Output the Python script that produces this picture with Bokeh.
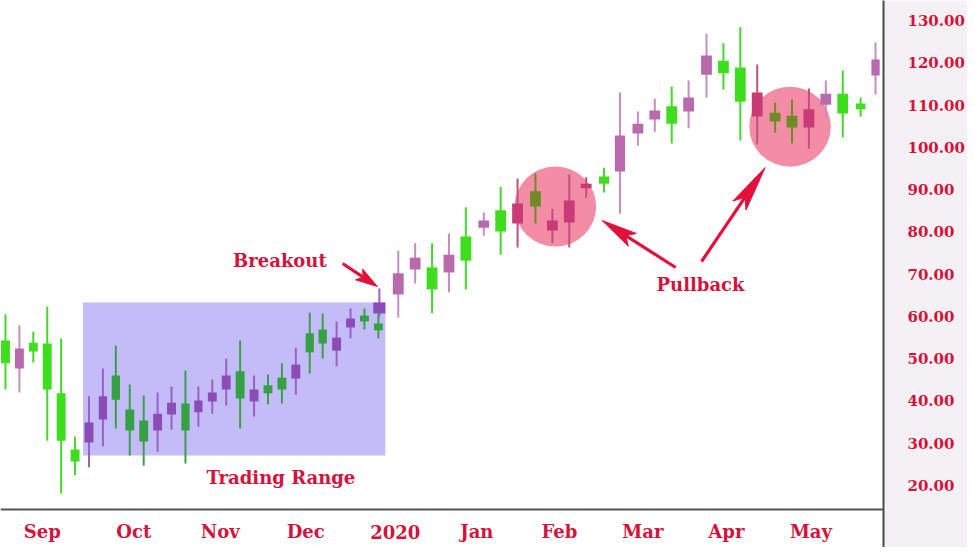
import numpy as np
from bokeh.plotting import figure
from bokeh.models import Range1d, FixedTicker, PrintfTickFormatter, Span
from bokeh.core.properties import value
from bokeh.embed import file_html
from bokeh.resources import INLINE

# ---------------- data ----------------
# candle positions along the time axis (chart units)
t = [5, 19, 33, 47, 61, 75, 89, 103, 116, 130, 144, 158, 172, 186, 199, 213, 227, 241,
     255, 269, 283, 297, 311, 324, 338, 352, 366, 381, 380, 400, 417, 434, 451, 468,
     486, 503, 520, 538, 555, 572, 589, 607, 623, 641, 658, 675, 692, 710, 727, 744,
     761, 779, 796, 813, 830, 847, 865, 880, 893]
opens = [48.9, 52.4, 51.7, 42.7, 30.6, 25.7, 34.9, 41.1, 40.3, 33.0, 30.4, 37.0, 39.6, 33.0,
         40.1, 42.0, 46.0, 40.6, 42.7, 41.8, 42.7, 48.6, 51.5, 53.6, 55.0, 59.5, 58.8, 63.3,
         56.7, 70.2, 73.9, 66.4, 74.6, 73.2, 82.7, 80.1, 86.7, 86.0, 82.7, 87.4, 91.4, 91.4,
         102.8, 105.6, 108.7, 105.6, 111.8, 121.7, 117.5, 110.8, 113.0, 106.1, 104.7, 109.0,
         112.7, 108.0, 109.0, 120.8, 123.6]
closes = [54.3, 47.7, 53.8, 53.6, 41.8, 28.5, 30.2, 35.6, 46.0, 38.0, 35.4, 33.0, 36.8, 39.4,
          37.3, 39.9, 42.7, 47.0, 39.9, 43.7, 45.5, 45.3, 56.0, 56.9, 51.9, 57.4, 60.2, 60.7,
          58.3, 65.2, 71.1, 71.6, 70.4, 78.9, 81.0, 85.1, 82.0, 89.6, 80.3, 82.2, 90.3, 93.1,
          94.3, 103.3, 106.6, 109.7, 108.5, 117.2, 120.5, 118.9, 107.3, 108.2, 107.5, 104.7,
          110.1, 112.7, 110.4, 117.0, 121.7]
highs = [60.5, 57.9, 56.4, 62.3, 54.8, 31.6, 41.1, 47.7, 53.1, 43.9, 41.3, 42.0, 43.4, 47.2,
         43.4, 45.1, 50.0, 54.3, 46.0, 46.3, 48.9, 52.6, 60.9, 60.7, 58.8, 61.9, 61.9, 66.6,
         60.7, 75.6, 77.3, 77.3, 79.6, 85.8, 84.6, 90.7, 92.6, 93.8, 85.5, 93.6, 92.9, 95.2,
         113.0, 108.5, 111.5, 114.4, 115.8, 126.9, 124.6, 128.4, 119.6, 110.6, 111.3, 113.9,
         115.8, 118.2, 111.8, 124.8, 126.0]
lows = [42.7, 42.0, 49.1, 30.6, 18.1, 22.4, 24.3, 29.2, 33.5, 27.1, 24.7, 28.0, 33.2, 25.2,
        33.9, 37.0, 38.9, 33.5, 36.3, 39.2, 39.4, 41.5, 46.5, 50.0, 48.2, 54.8, 56.9, 60.0,
        54.8, 59.7, 67.8, 60.7, 65.7, 66.4, 79.1, 74.6, 76.3, 82.0, 77.3, 76.3, 88.1, 89.3,
        84.3, 100.4, 103.7, 100.9, 104.5, 111.8, 113.7, 101.6, 100.7, 103.5, 100.9, 99.7,
        107.1, 102.3, 107.3, 112.5, 119.0]

month_labels = ["Sep", "Oct", "Nov", "Dec", "2020", "Jan", "Feb", "Mar", "Apr", "May"]
month_pos = [42, 134, 221, 307, 397, 479, 562, 646, 730, 815]
price_ticks = [20, 30, 40, 50, 60, 70, 80, 90, 100, 110, 120, 130]

# annotation regions
range_box = dict(left=83, right=387, bottom=27.1, top=63.3)
pullback_centers_t = [558, 794]
pullback_centers_p = [86.0, 104.9]

# ---------------- styling ----------------
RED = "#d2143c"
ARROW_RED = "#e4103c"
FONT = value("DejaVu Serif")
PX_PER_UNIT = 4.227           # vertical pixels per price unit
Y0_PX, Y0_VAL = 485, 20.0
W, H = 967, 547
FRAME_W = 888


def val(py):
    return Y0_VAL + (Y0_PX - py) / PX_PER_UNIT


t_arr = np.array(t, float)
o = np.array(opens); c = np.array(closes); h = np.array(highs); l = np.array(lows)
up = c >= o

# circle size (chart units)
RX = 41.0
RY = 40.0 / PX_PER_UNIT

# colours per region (box / circle appear multiplied onto the candles)
body_col, wick_col = [], []
mid = (o + c) / 2
for i in range(len(t)):
    in_box = range_box["left"] <= t_arr[i] <= range_box["right"]
    in_circ = any(((t_arr[i] - cx) / RX) ** 2 + ((mid[i] - cy) / RY) ** 2 < 1.0
                  for cx, cy in zip(pullback_centers_t, pullback_centers_p))
    if in_circ:
        b = "#6f8a26" if up[i] else "#c93b76"
        w = "#6f8a26" if up[i] else "#c0507e"
    elif in_box:
        b = "#35a044" if up[i] else "#8c4cb8"
        w = "#3aa04a" if up[i] else "#9a62c0"
    else:
        b = "#3ede1e" if up[i] else "#b86aad"
        w = "#44d82a" if up[i] else "#c48ec0"
    body_col.append(b)
    wick_col.append(w)

# body width from local spacing of the candles
order = np.argsort(t_arr)
ts = t_arr[order]
gaps = np.diff(ts)
gaps[gaps < 5] = np.nan
sp = np.empty(len(ts))
for k in range(len(ts)):
    cand = [g for g in [gaps[k - 1] if k > 0 else np.nan, gaps[k] if k < len(gaps) else np.nan]
            if not np.isnan(g)]
    sp[k] = min(cand) if cand else 14
spacing = np.empty(len(ts)); spacing[order] = sp
widths = 0.64 * spacing

p = figure(width=W, height=H, title=None, output_backend="svg", toolbar_location=None,
           x_axis_location=None, y_axis_location="right",
           x_range=Range1d(0, FRAME_W), y_range=Range1d(val(H), val(0)),
           min_border_left=0, min_border_top=0, min_border_bottom=0,
           min_border_right=W - FRAME_W)
p.grid.visible = False
p.outline_line_color = None
p.background_fill_color = "white"
p.border_fill_color = "#f3f1f3"

# trading range box
p.quad(left=[range_box["left"]], right=[range_box["right"]], bottom=[range_box["bottom"]],
       top=[range_box["top"]], fill_color="#c3bcf9", line_color=None)
# pullback circles
p.ellipse(x=pullback_centers_t, y=pullback_centers_p, width=2 * RX, height=2 * RY,
          fill_color="#f38ca5", line_color=None)

# candles
p.segment(x0=t_arr, y0=l, x1=t_arr, y1=h, line_color=wick_col, line_width=2)
p.vbar(x=t_arr, width=widths, bottom=np.minimum(o, c), top=np.maximum(o, c),
       fill_color=body_col, line_color=None)

# bottom axis line + month labels
p.add_layout(Span(location=val(509), dimension="width", line_color="#555555", line_width=2))
p.text(x=month_pos, y=[val(531)] * len(month_pos), text=month_labels,
       text_font=FONT, text_font_style="bold", text_font_size="18px", text_color=RED,
       text_align="center", text_baseline="middle")

# annotation texts
ann_text = ["Breakout", "Trading Range", "Pullback"]
ann_x = [281, 282, 704]
ann_y = [val(260), val(477), val(284)]
p.text(x=ann_x, y=ann_y, text=ann_text, text_font=FONT, text_font_style="bold",
       text_font_size="18px", text_color=RED, text_align="center", text_baseline="middle")

# arrows (tail px, tip px, head length, head half-width)
arrows = [((344, 263), (379, 286), 22, 6.5),
          ((679, 267), (605, 220), 36, 7.5),
          ((705, 261), (769, 167), 46, 8.0)]
xs, ys, sx0, sy0, sx1, sy1 = [], [], [], [], [], []
for (x0, y0), (x1, y1), L, HW in arrows:
    d = np.array([x1 - x0, y1 - y0], float)
    u = d / np.linalg.norm(d)
    n = np.array([-u[1], u[0]])
    tip = np.array([x1, y1], float)
    b1 = tip - L * u + HW * n
    b2 = tip - L * u - HW * n
    notch = tip - 0.78 * L * u
    pts = [tip, b1, notch, b2]
    xs.append([pt[0] for pt in pts])
    ys.append([val(pt[1]) for pt in pts])
    sx0.append(x0); sy0.append(val(y0)); sx1.append(notch[0]); sy1.append(val(notch[1]))
p.segment(x0=sx0, y0=sy0, x1=sx1, y1=sy1, line_color=ARROW_RED, line_width=3.2)
p.patches(xs, ys, fill_color=ARROW_RED, line_color=ARROW_RED, line_width=1)

# right price axis
ax = p.yaxis[0]
ax.ticker = FixedTicker(ticks=price_ticks)
ax.formatter = PrintfTickFormatter(format="%.2f")
ax.major_tick_line_color = None
ax.minor_tick_line_color = None
ax.axis_line_color = "#4a4a4a"
ax.axis_line_width = 2
ax.major_label_standoff = 18
ax.major_label_text_font = "DejaVu Serif"
ax.major_label_text_font_style = "bold"
ax.major_label_text_font_size = "15px"
ax.major_label_text_color = RED

open("out.html", "w").write(file_html(p, INLINE))
